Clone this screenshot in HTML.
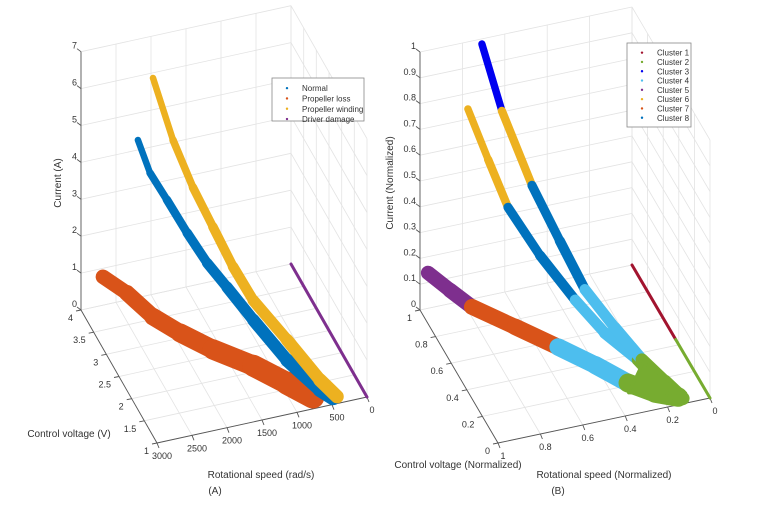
<!DOCTYPE html>
<html><head><meta charset="utf-8"><style>
html,body{margin:0;padding:0;background:#fff;}
svg{display:block;font-family:"Liberation Sans",sans-serif;}
</style></head><body>
<svg id="fig" width="770" height="512" viewBox="0 0 770 512">
<g id="pa"></g>
<g id="pb"></g>
</svg>
<script>
// ---------- Panel A data (speed rad/s, voltage V, current A) ----------
const normalSpeed   = [2187,2079,1929,1749,1572,1395,1161,861,567,450];
const normalVolt    = [4,3.82,3.57,3.27,2.97,2.67,2.28,1.78,1.29,1.10];
const normalCurr    = [4.27,3.55,3.06,2.45,1.92,1.55,1.03,0.42,0.08,0.04];
const lossSpeed     = [2685,2451,2196,1932,1611,1218,915,687];
const lossVolt      = [4,3.7,3.38,3.04,2.63,2.13,1.63,1.24];
const lossCurr      = [0.77,0.59,0.23,0.09,0,0,0,0];
const windSpeed     = [1971,1798,1626,1452,1278,1104,810,525,378];
const windVolt      = [4,3.69,3.38,3.07,2.76,2.44,1.92,1.41,1.14];
const windCurr      = [5.86,4.48,3.50,2.73,1.95,1.35,0.78,0.19,0.0];
const driverSpeed   = [0,0];
const driverVolt    = [4,1];
const driverCurr    = [0,0];
const aSpeedTicks = [0,500,1000,1500,2000,2500,3000];
const aVoltTicks  = [1,1.5,2,2.5,3,3.5,4];
const aCurrTicks  = [0,1,2,3,4,5,6,7];
const aLegend = ["Normal","Propeller loss","Propeller winding","Driver damage"];

// ---------- Panel B data (normalized) ----------
const bWindS = [0.708,0.649,0.560,0.478,0.404,0.315,0.236,0.168,0.115];
const bWindV = [1,0.904,0.76,0.626,0.506,0.361,0.232,0.122,0.036];
const bWindC = [0.98,0.76,0.53,0.37,0.23,0.14,0.07,0.03,0];
const bWindK = [3,6,8,8,4,4,2,2];
const bNormS = [0.774,0.712,0.651,0.553,0.445,0.354,0.252,0.185,0.123];
const bNormV = [1,0.91,0.82,0.677,0.519,0.386,0.237,0.139,0.049];
const bNormC = [0.74,0.58,0.43,0.30,0.19,0.115,0.07,0.02,0];
const bNormK = [6,6,8,8,4,4,2,2];
const bLossS = [0.962,0.889,0.816,0.672,0.529,0.406,0.307,0.218,0.132];
const bLossV = [1,0.917,0.835,0.671,0.51,0.37,0.217,0.111,0.052];
const bLossC = [0.137,0.10,0.065,0.047,0.027,0.008,0,0,0];
const bLossK = [5,5,7,7,4,4,2,2];
const bBlobS = [0.192,0.329,0.09];
const bBlobV = [0.336,0.15,0.067];
const bBlobC = [0,0,0];
const bLineS = [0,0,0];
const bLineV = [1,0.44,0];
const bLineC = [0,0,0];
const bLineK = [1,2];
const bSpeedTicks = [0,0.2,0.4,0.6,0.8,1];
const bVoltTicks  = [0,0.2,0.4,0.6,0.8,1];
const bCurrTicks  = [0,0.1,0.2,0.3,0.4,0.5,0.6,0.7,0.8,0.9,1];
const bLegend = ["Cluster 1","Cluster 2","Cluster 3","Cluster 4","Cluster 5","Cluster 6","Cluster 7","Cluster 8"];
const clusterColors = ["","#A2142F","#77AC30","#0000F0","#4DBEEE","#7E2F8E","#EDB120","#D95319","#0072BD"];

const NS="http://www.w3.org/2000/svg";
function mk(parent,tag,attrs,name,text){
  const e=document.createElementNS(NS,tag);
  for(const k in attrs) e.setAttribute(k,attrs[k]);
  
  
  if(text!==undefined) e.textContent=text;
  parent.appendChild(e);return e;
}
function makeProj(O,S,V,C,sMax,vMin,vMax){
  return (s,v,c)=>{
    const f=(sMax-s)/sMax, g=(vMax-v)/(vMax-vMin);
    return [O[0]+S[0]*f+V[0]*g, O[1]+S[1]*f+V[1]*g - C*c];
  };
}
function drawAxes(g,P,sT,vT,cT,sMax,vMin,vMax,cMax,fmt){
  const grid={stroke:"#e3e3e3","stroke-width":0.8};
  const ln=(a,b,st,name)=>mk(g,"line",Object.assign({x1:a[0].toFixed(1),y1:a[1].toFixed(1),x2:b[0].toFixed(1),y2:b[1].toFixed(1)},st),name);
  cT.forEach(c=>{ln(P(sMax,vMax,c),P(0,vMax,c),grid,"grid-line");ln(P(0,vMax,c),P(0,vMin,c),grid,"grid-line");});
  sT.forEach(s=>{ln(P(s,vMax,0),P(s,vMax,cMax),grid,"grid-line");ln(P(s,vMax,0),P(s,vMin,0),grid,"grid-line");});
  vT.forEach(v=>{ln(P(0,v,0),P(0,v,cMax),grid,"grid-line");ln(P(sMax,v,0),P(0,v,0),grid,"grid-line");});
  const ax={stroke:"#555","stroke-width":0.9};
  ln(P(sMax,vMax,0),P(sMax,vMax,cMax),ax,"z-axis-line");
  ln(P(sMax,vMax,0),P(sMax,vMin,0),ax,"voltage-axis-line");
  ln(P(sMax,vMin,0),P(0,vMin,0),ax,"speed-axis-line");
  cT.forEach(c=>{const p=P(sMax,vMax,c);ln(p,[p[0]-4,p[1]-3],ax,"z-tick");
    mk(g,"text",{x:(p[0]-4).toFixed(1),y:(p[1]-3).toFixed(1),"text-anchor":"end","font-size":9,fill:"#333"},"z-tick-label",fmt(c));});
  vT.forEach(v=>{const p=P(sMax,v,0);ln(p,[p[0]-5,p[1]+1],ax,"voltage-tick");
    mk(g,"text",{x:(p[0]-8).toFixed(1),y:(p[1]+11).toFixed(1),"text-anchor":"end","font-size":9,fill:"#333"},"voltage-tick-label",fmt(v));});
  sT.forEach(s=>{const p=P(s,vMin,0);ln(p,[p[0]+2,p[1]+5],ax,"speed-tick");
    mk(g,"text",{x:(p[0]+5).toFixed(1),y:(p[1]+16).toFixed(1),"text-anchor":"middle","font-size":9,fill:"#333"},"speed-tick-label",fmt(s));});
}
// tapered band: width grows from w0 at first point to w1 at last
function band(g,P,S,V,C,color,w0,w1,name){
  const n=S.length;
  for(let i=0;i<n-1;i++){
    const a=P(S[i],V[i],C[i]),b=P(S[i+1],V[i+1],C[i+1]);
    const w=w0+(w1-w0)*(i+0.5)/(n-1);
    mk(g,"line",{x1:a[0].toFixed(1),y1:a[1].toFixed(1),x2:b[0].toFixed(1),y2:b[1].toFixed(1),stroke:color,"stroke-width":w.toFixed(1),"stroke-linecap":"round"},name);
  }
}
function segs(g,P,S,V,C,K,w0,w1,name){
  const n=S.length;
  K.forEach((k,i)=>{
    const a=P(S[i],V[i],C[i]),b=P(S[i+1],V[i+1],C[i+1]);
    const w=w0+(w1-w0)*(i+0.5)/(n-1);
    mk(g,"line",{x1:a[0].toFixed(1),y1:a[1].toFixed(1),x2:b[0].toFixed(1),y2:b[1].toFixed(1),stroke:clusterColors[k],"stroke-width":w.toFixed(1),"stroke-linecap":"round"},name+"-cluster-"+k);
  });
}
function legend(g,x,y,w,h,items,colors,dy){
  mk(g,"rect",{x:x,y:y,width:w,height:h,fill:"#fff",stroke:"#888","stroke-width":0.8},"legend-box");
  items.forEach((t,i)=>{
    const yy=y+5+dy*i+dy/2;
    mk(g,"circle",{cx:x+15,cy:yy,r:1.2,fill:colors[i]},"legend-marker");
    mk(g,"text",{x:x+30,y:yy+3,"font-size":8,fill:"#333"},"legend-entry",t);
  });
}

// Panel A
const ga=document.getElementById('pa');
const PA=makeProj([81,310],[210,-46],[76,133],36.9,3000,1,4);
drawAxes(ga,PA,aSpeedTicks,aVoltTicks,aCurrTicks,3000,1,4,7,v=>String(v));
band(ga,PA,lossSpeed,lossVolt,lossCurr,"#D95319",14,24,"propeller-loss-series");
band(ga,PA,normalSpeed,normalVolt,normalCurr,"#0072BD",6,15,"normal-series");
band(ga,PA,windSpeed,windVolt,windCurr,"#EDB120",6,14,"propeller-winding-series");
band(ga,PA,driverSpeed,driverVolt,driverCurr,"#7E2F8E",3,3,"driver-damage-series");
legend(ga,272,78,92,43,aLegend,["#0072BD","#D95319","#EDB120","#7E2F8E"],10.3);
mk(ga,"text",{x:0,y:0,transform:"translate(61,183) rotate(-90)","text-anchor":"middle","font-size":10,fill:"#333"},"z-axis-title","Current (A)");
mk(ga,"text",{x:69,y:437,"text-anchor":"middle","font-size":10,fill:"#333"},"voltage-axis-title","Control voltage (V)");
mk(ga,"text",{x:261,y:478,"text-anchor":"middle","font-size":10,fill:"#333"},"speed-axis-title","Rotational speed (rad/s)");
mk(ga,"text",{x:215,y:494,"text-anchor":"middle","font-size":10,fill:"#333"},"panel-label","(A)");

// Panel B
const gb=document.getElementById('pb');
const PB=makeProj([420,310],[212,-45],[78,133],258,1,0,1);
drawAxes(gb,PB,bSpeedTicks,bVoltTicks,bCurrTicks,1,0,1,1,v=>String(v));
segs(gb,PB,bLossS,bLossV,bLossC,bLossK,14,20,"loss-path");
segs(gb,PB,bNormS,bNormV,bNormC,bNormK,7,14,"normal-path");
segs(gb,PB,bWindS,bWindV,bWindC,bWindK,7,14,"winding-path");
mk(gb,"polygon",{points:bBlobS.map((s,i)=>PB(s,bBlobV[i],bBlobC[i]).map(n=>n.toFixed(1)).join(",")).join(" "),fill:"#77AC30",stroke:"#77AC30","stroke-width":3,"stroke-linejoin":"round"},"cluster-2-blob");
segs(gb,PB,bLineS,bLineV,bLineC,bLineK,3,3,"driver-line");
legend(gb,627,43,64,84,bLegend,clusterColors.slice(1),9.3);
mk(gb,"text",{x:0,y:0,transform:"translate(393,183) rotate(-90)","text-anchor":"middle","font-size":10,fill:"#333"},"z-axis-title","Current (Normalized)");
mk(gb,"text",{x:458,y:468,"text-anchor":"middle","font-size":10,fill:"#333"},"voltage-axis-title","Control voltage (Normalized)");
mk(gb,"text",{x:604,y:478,"text-anchor":"middle","font-size":10,fill:"#333"},"speed-axis-title","Rotational speed (Normalized)");
mk(gb,"text",{x:558,y:494,"text-anchor":"middle","font-size":10,fill:"#333"},"panel-label","(B)");
</script>
</body></html>
